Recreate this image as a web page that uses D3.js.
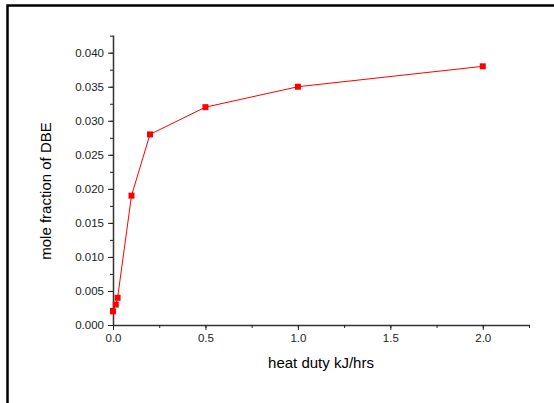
<!DOCTYPE html>
<html>
<head>
<meta charset="utf-8">
<script src="https://cdn.jsdelivr.net/npm/d3@7"></script>
<style>
  body { margin: 0; background: #fff; }
  text { font-family: "Liberation Sans", Arial, sans-serif; }
</style>
</head>
<body>
<div id="chart"></div>
<script>
// data
var heatDuty = [0, 0.015, 0.025, 0.1, 0.2, 0.5, 1.0, 2.0];
var moleFraction = [0.002, 0.003, 0.004, 0.019, 0.028, 0.032, 0.035, 0.038];
var xTicks = [0, 0.5, 1.0, 1.5, 2.0];
var yTicks = [0, 0.005, 0.010, 0.015, 0.020, 0.025, 0.030, 0.035, 0.040];

var data = heatDuty.map(function(d, i){ return {x: d, y: moleFraction[i]}; });

var width = 554, height = 403;
var margin = {top: 35, right: 25, bottom: 78, left: 113};

var svg = d3.select("#chart").append("svg")
    .attr("width", width)
    .attr("height", height);

// outer frame (only top and left edges show)
svg.append("path")
    .attr("d", "M7.5,403V5.5H554")
    .attr("fill", "none")
    .attr("stroke", "#000")
    .attr("stroke-width", 2.5);

var x = d3.scaleLinear().domain([0, 2.25]).range([margin.left, width - margin.right]);
var y = d3.scaleLinear().domain([0, 0.0426]).range([height - margin.bottom, margin.top]);

// minor ticks
var xMinor = d3.range(0, 2.2501, 0.25);
var yMinor = d3.range(0, 0.0426, 0.0025);

var xAxis = svg.append("g")
    .attr("transform", "translate(0," + y(0) + ")")
    .call(d3.axisBottom(x).tickValues(xTicks).tickFormat(d3.format(".1f")).tickSize(5).tickSizeOuter(0).tickPadding(4));
svg.append("g")
    .attr("transform", "translate(0," + y(0) + ")")
    .call(d3.axisBottom(x).tickValues(xMinor).tickFormat("").tickSize(3).tickSizeOuter(0))
    .select(".domain").remove();

var yAxis = svg.append("g")
    .attr("transform", "translate(" + x(0) + ",0)")
    .call(d3.axisLeft(y).tickValues(yTicks).tickFormat(d3.format(".3f")).tickSize(5).tickSizeOuter(0).tickPadding(4));
svg.append("g")
    .attr("transform", "translate(" + x(0) + ",0)")
    .call(d3.axisLeft(y).tickValues(yMinor).tickFormat("").tickSize(3).tickSizeOuter(0))
    .select(".domain").remove();

svg.selectAll(".domain").attr("stroke", "#333").attr("stroke-width", 1.5);
svg.selectAll(".tick line").attr("stroke", "#222");
svg.selectAll(".tick text").attr("font-size", 11.5).attr("fill", "#222");

// axis titles
svg.append("text")
    .attr("x", 321)
    .attr("y", 368)
    .attr("text-anchor", "middle")
    .attr("font-size", 15)
    .text("heat duty kJ/hrs");

svg.append("text")
    .attr("transform", "translate(51,191) rotate(-90)")
    .attr("text-anchor", "middle")
    .attr("font-size", 15)
    .text("mole fraction of DBE");

// line and markers
var line = d3.line()
    .x(function(d){ return x(d.x); })
    .y(function(d){ return y(d.y); });

svg.append("path")
    .datum(data)
    .attr("d", line)
    .attr("fill", "none")
    .attr("stroke", "red")
    .attr("stroke-width", 1);

svg.selectAll("rect.pt")
    .data(data)
    .enter()
    .append("rect")
    .attr("class", "pt")
    .attr("x", function(d){ return x(d.x) - 3; })
    .attr("y", function(d){ return y(d.y) - 3; })
    .attr("width", 6)
    .attr("height", 6)
    .attr("fill", "red");
</script>
</body>
</html>
